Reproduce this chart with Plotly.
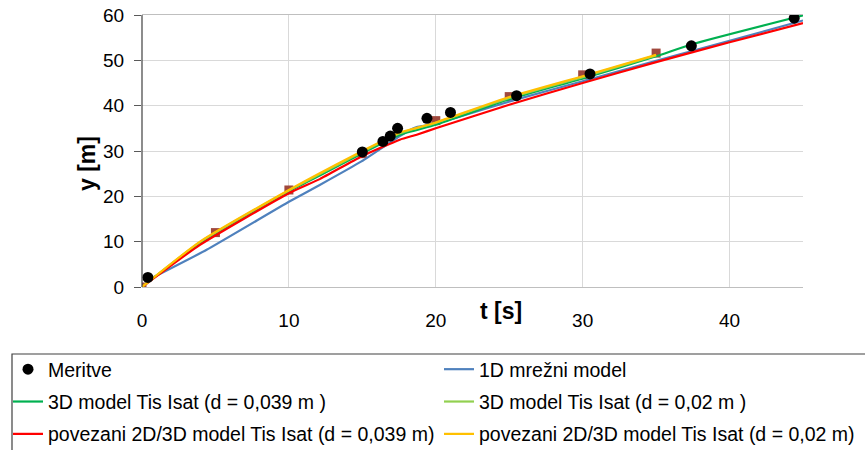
import plotly.graph_objects as go

# Measurements (Meritve)
meas_t = [0.4, 15.0, 16.4, 16.9, 17.4, 19.4, 21.0, 25.5, 30.5, 37.4, 44.4]
meas_y = [2.1, 29.8, 32.1, 33.3, 35.0, 37.2, 38.5, 42.2, 47.0, 53.2, 59.3]

# Square markers (no legend entry)
sq_t = [0, 5, 10, 15, 20, 25, 30, 35]
sq_y = [0.0, 12.0, 21.4, 29.4, 36.7, 42.0, 46.8, 51.6]

# 1D network model
m1d_t = [0.2, 4.4, 10, 12.1, 14.94, 17.55, 18.2, 18.7, 20, 25.5, 30, 35, 40, 45]
m1d_y = [1.2, 8.2, 18.8, 22.5, 27.7, 33.3, 34.6, 35.3, 36.0, 41.4, 45.4, 49.9, 54.3, 58.8]

# 3D model d = 0.039
g39_t = [0, 3.95, 10, 12.1, 14.94, 17.55, 20, 25, 30, 35, 37.4, 45]
g39_y = [0, 9.7, 21.1, 24.6, 29.4, 33.6, 35.8, 41.4, 46.0, 50.9, 53.5, 59.9]

# 3D model d = 0.02
g02_t = [0, 3.95, 10, 12.1, 14.94, 17.55, 20, 25, 30, 35]
g02_y = [0, 9.9, 21.3, 24.9, 29.7, 33.9, 36.2, 41.7, 46.3, 51.1]

# coupled 2D/3D d = 0.039
r39_t = [0, 3.95, 10, 12.1, 14.94, 17.55, 18.7, 20, 25, 30, 35, 40, 45]
r39_y = [0, 9.3, 20.7, 23.8, 28.8, 32.5, 33.6, 35.0, 40.2, 45.0, 49.6, 54.0, 58.2]

# coupled 2D/3D d = 0.02
y02_t = [0, 3.95, 10, 12.1, 14.94, 17.55, 18.7, 20, 25, 30, 35]
y02_y = [0, 10.0, 21.4, 25.1, 29.9, 34.1, 35.1, 36.3, 41.9, 46.5, 51.2]

FONT = "Liberation Sans, Arial, sans-serif"

fig = go.Figure()
fig.add_trace(go.Scatter(x=sq_t, y=sq_y, mode="markers", showlegend=False,
                         marker=dict(symbol="square", size=9, color="#A0483D")))

fig.add_trace(go.Scatter(x=m1d_t, y=m1d_y, mode="lines", name="1D mrežni model",
                         legend="legend2", legendgroup="b1", legendrank=1,
                         line=dict(color="#4F81BD", width=2.2, shape="spline", smoothing=0.4)))
lines = [
    ("3D model Tis Isat (d = 0,039 m )", g39_t, g39_y, "#00B050", "legend", 2),
    ("3D model Tis Isat (d = 0,02 m )", g02_t, g02_y, "#92D050", "legend2", 2),
    ("povezani 2D/3D model Tis Isat (d = 0,039 m)", r39_t, r39_y, "#FF0000", "legend", 3),
    ("povezani 2D/3D model Tis Isat (d = 0,02 m)", y02_t, y02_y, "#FFC000", "legend2", 3),
]
for i, (name, t, y, c, lg, rank) in enumerate(lines):
    fig.add_trace(go.Scatter(x=t, y=y, mode="lines", name=name, legend=lg,
                             legendgroup="g%d" % i, legendrank=rank,
                             line=dict(color=c, width=2.2, shape="spline", smoothing=0.5)))
fig.add_trace(go.Scatter(x=meas_t, y=meas_y, mode="markers", name="Meritve",
                         legend="legend", legendgroup="m", legendrank=1,
                         marker=dict(symbol="circle", size=11, color="black")))

leg_common = dict(orientation="v", xref="container", yref="container",
                  xanchor="left", yanchor="top", traceorder="grouped",
                  tracegroupgap=4, itemwidth=30, bgcolor="rgba(0,0,0,0)",
                  font=dict(family=FONT, size=19.5, color="black"))

fig.update_layout(
    width=865, height=450,
    margin=dict(l=142, r=62, t=15, b=163, autoexpand=False),
    paper_bgcolor="white", plot_bgcolor="white",
    font=dict(family=FONT, size=19, color="black"),
    showlegend=True,
    legend=dict(x=8 / 865, y=1 - 350 / 450, **leg_common),
    legend2=dict(x=439 / 865, y=1 - 350 / 450, **leg_common),
    xaxis=dict(range=[0, 45], tickvals=[0, 10, 20, 30, 40], showgrid=True,
               gridcolor="#D9D9D9", gridwidth=1, zeroline=False,
               showline=True, linecolor="#BFBFBF", linewidth=1, mirror=True,
               ticks="", ticklabelstandoff=16, tickfont=dict(size=19)),
    yaxis=dict(range=[0, 60], tickvals=[0, 10, 20, 30, 40, 50, 60], showgrid=True,
               gridcolor="#D9D9D9", gridwidth=1, zeroline=False,
               showline=False, ticks="outside", ticklen=7, tickcolor="#595959",
               ticklabelstandoff=6, tickfont=dict(size=19)),
    shapes=[
        dict(type="line", xref="paper", yref="paper", x0=0, x1=0, y0=0, y1=1,
             line=dict(color="#404040", width=1.2)),
        dict(type="rect", xref="paper", yref="paper",
             x0=(12 - 142) / 661, x1=(880 - 142) / 661,
             y0=(287 - 470) / 272, y1=(287 - 354) / 272,
             line=dict(color="#404040", width=1.2), fillcolor="rgba(0,0,0,0)"),
    ],
    annotations=[
        dict(text="<b>y [m]</b>", xref="paper", yref="paper",
             x=(87 - 142) / 661, y=(287 - 164) / 272, textangle=-90,
             xanchor="center", yanchor="middle",
             showarrow=False, font=dict(size=23, family=FONT)),
        dict(text="<b>t [s]</b>", xref="paper", yref="paper",
             x=(501 - 142) / 661, y=(287 - 311) / 272,
             xanchor="center", yanchor="middle",
             showarrow=False, font=dict(size=23, family=FONT)),
    ],
)

fig.write_html("out.html")
